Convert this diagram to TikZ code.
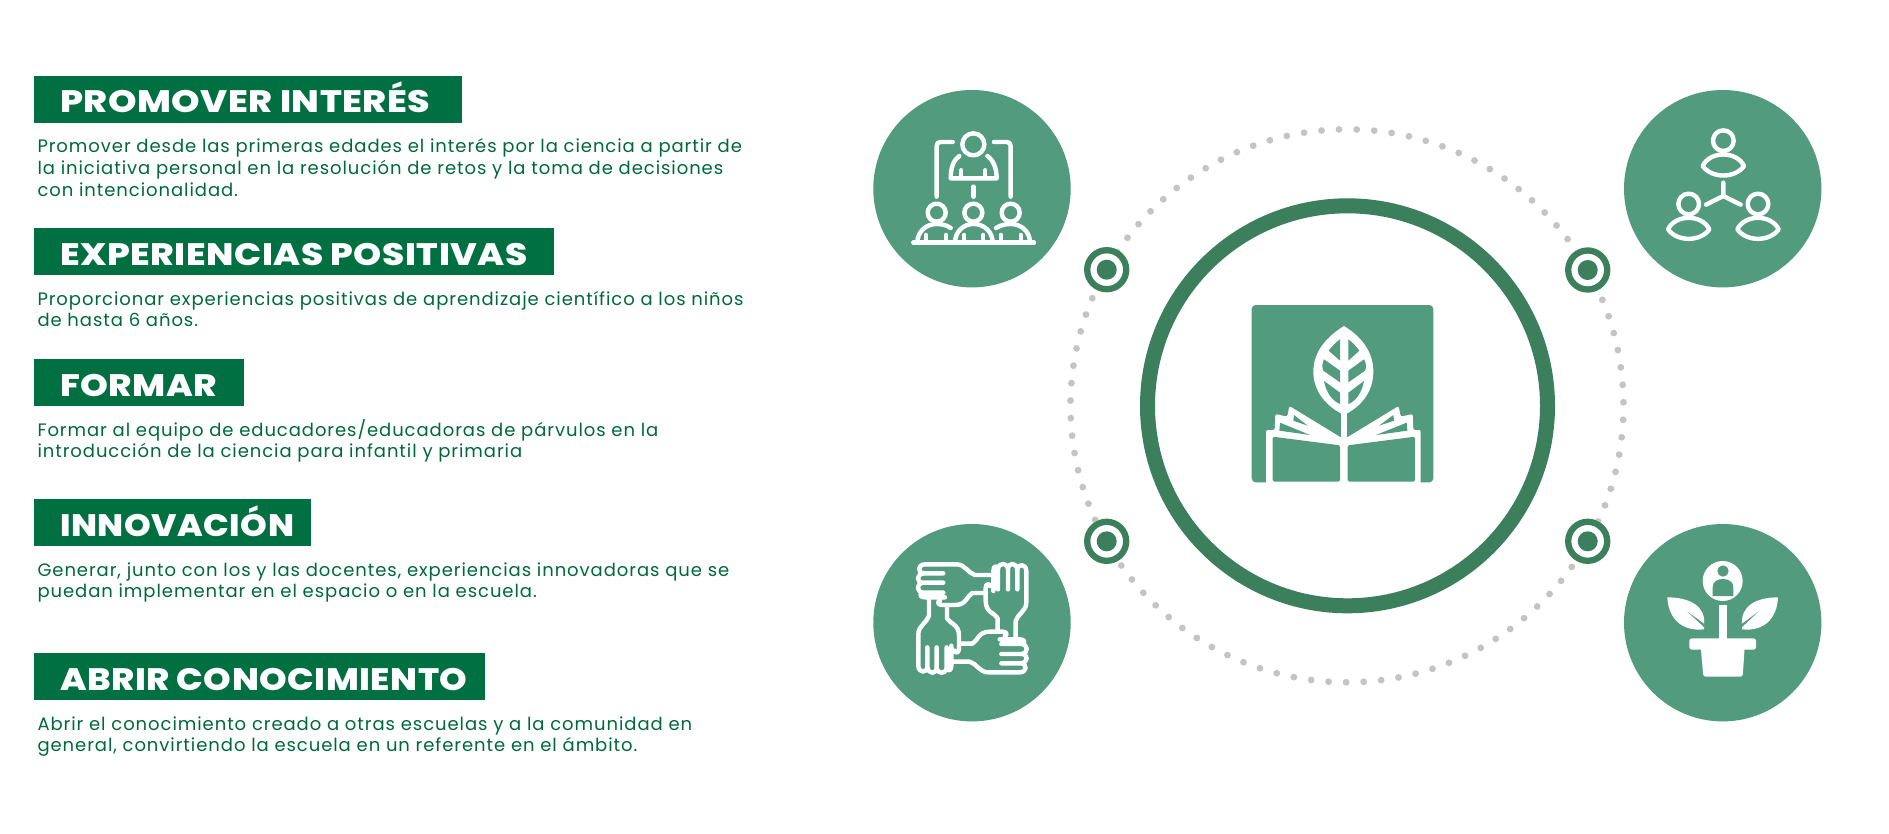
\documentclass[tikz,border=0pt]{standalone}
\usepackage{fontspec}
\setmainfont{Poppins}[LetterSpace=5.2]
\newfontfamily\headfont{Poppins ExtraBold}[LetterSpace=1.7,FakeStretch=1.16]
\definecolor{barG}{HTML}{006F42}
\definecolor{txtG}{HTML}{00693C}
\definecolor{discG}{HTML}{529B7E}
\definecolor{ringG}{HTML}{3B7F5C}
\definecolor{dotG}{HTML}{C4C4C4}
\tikzset{
  x=1pt,y=-1pt,
  headtxt/.style={anchor=base west,inner sep=0pt,text=white,font=\headfont\fontsize{31}{31}\selectfont},
  bodytxt/.style={anchor=base west,inner sep=0pt,text=txtG,align=left,font=\fontsize{18}{21.7}\selectfont},
  disc/.style={fill=discG},
  icon/.style={draw=white,line width=4.4pt,line cap=round,line join=round},
  iconthin/.style={draw=white,line width=3.8pt,line cap=round,line join=round},
}
\newcommand{\headbar}[7]{%
  \fill[barG] (34.3,#3) rectangle (#2,#4);
  \node[headtxt] (#1) at (60,#5) {\scalebox{#6}[1]{#7}};}
\newcommand{\targetmark}[2]{%
  \fill[white] (#1,#2) circle[radius=22.7];
  \draw[ringG,line width=6.3pt] (#1,#2) circle[radius=19.5];
  \fill[ringG] (#1,#2) circle[radius=10];}
\begin{document}
\begin{tikzpicture}
\fill[white] (0,0) rectangle (1889,833);
\useasboundingbox (0,0) rectangle (1889,833);
% ---------- left text
\headbar{h1}{462}{75.7}{122.7}{112.7}{1.008}{PROMOVER INTERÉS}
\node[bodytxt] (b1) at (37.3,196.1) {Promover desde las primeras edades el interés por la ciencia a partir de\\la iniciativa personal en la resolución de retos y la toma de decisiones\\con intencionalidad.};
\headbar{h2}{554}{228}{275}{265}{0.995}{EXPERIENCIAS POSITIVAS}
\node[bodytxt] (b2) at (37.3,326.7) {Proporcionar experiencias positivas de aprendizaje científico a los niños\\de hasta 6 años.};
\headbar{h3}{243.8}{358.7}{405.7}{396}{0.985}{FORMAR}
\node[bodytxt] (b3) at (37.3,457.7) {Formar al equipo de educadores/educadoras de párvulos en la\\introducción de la ciencia para infantil y primaria};
\headbar{h4}{311}{499}{546}{536}{0.946}{INNOVACIÓN}
\node[bodytxt] (b4) at (37.3,597.7) {Generar, junto con los y las docentes, experiencias innovadoras que se\\puedan implementar en el espacio o en la escuela.};
\headbar{h5}{485}{653}{700}{690}{0.977}{ABRIR CONOCIMIENTO}
\node[bodytxt] (b5) at (37.3,751.7) {Abrir el conocimiento creado a otras escuelas y a la comunidad en\\general, convirtiendo la escuela en un referente en el ámbito.};
% ---------- dotted ring
\foreach \k in {0,...,98}{
  \fill[dotG] ({1347+276.5*cos(91.66+3.636*\k)},{405.8-276.5*sin(91.66+3.636*\k)}) circle[radius=3.4];
}
% ---------- main ring
\draw[ringG,line width=15pt] (1347.5,405.8) circle[radius=200];
% ---------- targets
\targetmark{1106.7}{269.7}
\targetmark{1587.7}{270}
\targetmark{1106.7}{541.3}
\targetmark{1587.7}{541.3}
% ---------- discs
\fill[disc] (972,188.7) circle[radius=98.7];
\fill[disc] (1722.7,188.7) circle[radius=98.7];
\fill[disc] (972,622.7) circle[radius=98.7];
\fill[disc] (1722.7,622.7) circle[radius=98.7];
% ---------- icon 1: teacher & class
\begin{scope}[shift={(860,70)},scale=1/3]
  \draw[icon] (340,223) circle[radius=33];
  \draw[icon] (298,258) .. controls (280,270) and (272,295) .. (272,325) -- (410,325) .. controls (410,295) and (400,270) .. (382,258);
  \draw[iconthin] (304,300) -- (304,325) (376,300) -- (376,325);
  \draw[icon] (230,380) -- (230,228) .. controls (230,220) and (234,216) .. (242,216) -- (278,216);
  \draw[icon] (452,380) -- (452,228) .. controls (452,220) and (448,216) .. (440,216) -- (402,216);
  \draw[icon] (340,350) -- (340,380);
  \draw[icon] (160,518) -- (522,518);
  \foreach \hx in {230,340,452}{\draw[icon] (\hx,428) circle[radius=27];}
  \draw[icon] (285,518) .. controls (285,485) and (310,462) .. (340,462) .. controls (372,462) and (398,485) .. (398,518);
  \draw[iconthin] (312,494) -- (312,518) (370,494) -- (370,518);
  \draw[icon] (172,518) .. controls (172,485) and (198,462) .. (230,462) .. controls (245,462) and (260,465) .. (272,474);
  \draw[iconthin] (198,494) -- (198,518) (258,494) -- (258,518);
  \draw[icon] (510,518) .. controls (510,485) and (484,462) .. (452,462) .. controls (437,462) and (422,465) .. (408,474);
  \draw[iconthin] (422,494) -- (422,518) (482,494) -- (482,518);
\end{scope}
% ---------- icon 2: three people
\begin{scope}[shift={(1610,70)},scale=1/3]
  \foreach \hx/\hy in {340/212,236/402,444/402}{
    \draw[icon] (\hx,\hy) circle[radius=31];
    \draw[icon] ({\hx-62},{\hy+76}) .. controls ({\hx-40},{\hy+30}) and ({\hx+40},{\hy+30}) .. ({\hx+62},{\hy+76}) .. controls ({\hx+35},{\hy+114}) and ({\hx-35},{\hy+114}) .. ({\hx-62},{\hy+76}) -- cycle;
  }
  \draw[icon] (340,338) -- (340,378) (288,404) -- (340,378) -- (392,404);
\end{scope}
% ---------- icon 3: four hands
\begin{scope}[shift={(860,510)},scale=1/3]
  \foreach \a in {0,-90,-180,-270}{
    \begin{scope}[rotate around={\a:(337,325)}]
      \draw[icon] (400,195) -- (345,195) .. controls (325,190) and (315,163) .. (290,163) -- (195,163)
        .. controls (172,163) and (172,190) .. (192,190) -- (250,190)
        (192,190) .. controls (168,192) and (168,218) .. (190,218) -- (250,218)
        (190,218) .. controls (168,220) and (168,246) .. (190,248) -- (250,248)
        (190,248) .. controls (175,252) and (180,262) .. (195,262) -- (255,262)
        (374,249) -- (337,249) .. controls (320,258) and (320,285) .. (285,285) -- (245,285) .. controls (232,285) and (232,272) .. (240,272);
    \end{scope}
  }
\end{scope}
% ---------- icon 4: plant & person
\begin{scope}[shift={(1610,510)},scale=1/3]
  \fill[white] (338,213) circle[radius=60];
  \fill[discG] (339,183) circle[radius=17];
  \fill[discG] (308,258) -- (308,232) .. controls (308,215) and (322,207) .. (339,207) .. controls (356,207) and (370,215) .. (370,232) -- (370,258) -- cycle;
  \fill[white] (326,285) rectangle (352,390);
  \fill[white,rounded corners=2.5pt] (238,385) rectangle (438,419);
  \fill[white,rounded corners=2.5pt] (272,410) -- (404,410) -- (398,500) -- (280,500) -- cycle;
  \fill[white] (172,262) .. controls (240,262) and (288,290) .. (282,342) -- (282,358) .. controls (215,365) and (175,325) .. (172,262) -- cycle;
  \fill[discG] (232,305) -- (283,342) -- (283,352) -- cycle;
  \fill[white] (504,262) .. controls (436,262) and (392,290) .. (396,342) -- (396,358) .. controls (463,365) and (501,325) .. (504,262) -- cycle;
  \fill[discG] (445,305) -- (395,342) -- (395,352) -- cycle;
\end{scope}
% ---------- centre book
\begin{scope}[shift={(1230,280)},scale=1/3]
  \fill[discG,rounded corners=4pt] (65,75) rectangle (610,607);
  \fill[white,rounded corners=2pt] (108,610) -- (108,450) -- (134,450) -- (136,402) -- (172,410) -- (178,378) -- (342,478)
     -- (506,378) -- (512,410) -- (548,402) -- (550,450) -- (572,450) -- (572,610) -- cycle;
  % pages
  \fill[discG,rounded corners=1.5pt] (128,470) -- (330,496) -- (330,605) -- (128,605) -- cycle;
  \fill[discG,rounded corners=1.5pt] (555,470) -- (353,496) -- (353,605) -- (555,605) -- cycle;
  % page cells
  \fill[discG] (150,428) -- (240,465) -- (148,452) -- cycle;
  \fill[discG] (192,405) -- (233,437) -- (190,422) -- cycle;
  \fill[discG] (530,428) -- (438,465) -- (532,452) -- cycle;
  \fill[discG] (490,405) -- (447,437) -- (492,422) -- cycle;
  % leaf
  \fill[white] (342,138) .. controls (290,170) and (250,215) .. (250,275) .. controls (250,335) and (290,380) .. (342,405) .. controls (394,380) and (430,335) .. (430,275) .. controls (430,215) and (394,170) .. (342,138) -- cycle;
  \fill[white] (332,395) rectangle (352,607);
  \fill[discG] (330,178) -- (330,242) -- (296,212) .. controls (305,200) and (318,186) .. (330,178) -- cycle;
  \fill[discG] (355,178) -- (355,242) -- (388,212) .. controls (379,200) and (366,186) .. (355,178) -- cycle;
  \fill[discG] (282,238) -- (330,272) -- (330,307) -- (280,272) .. controls (275,262) and (277,248) .. (282,238) -- cycle;
  \fill[discG] (402,238) -- (355,272) -- (355,307) -- (405,272) .. controls (410,262) and (408,248) .. (402,238) -- cycle;
  \fill[discG] (282,303) -- (330,338) -- (330,372) .. controls (305,362) and (288,335) .. (282,303) -- cycle;
  \fill[discG] (402,303) -- (355,338) -- (355,372) .. controls (380,362) and (396,335) .. (402,303) -- cycle;
\end{scope}
\end{tikzpicture}
\end{document}
